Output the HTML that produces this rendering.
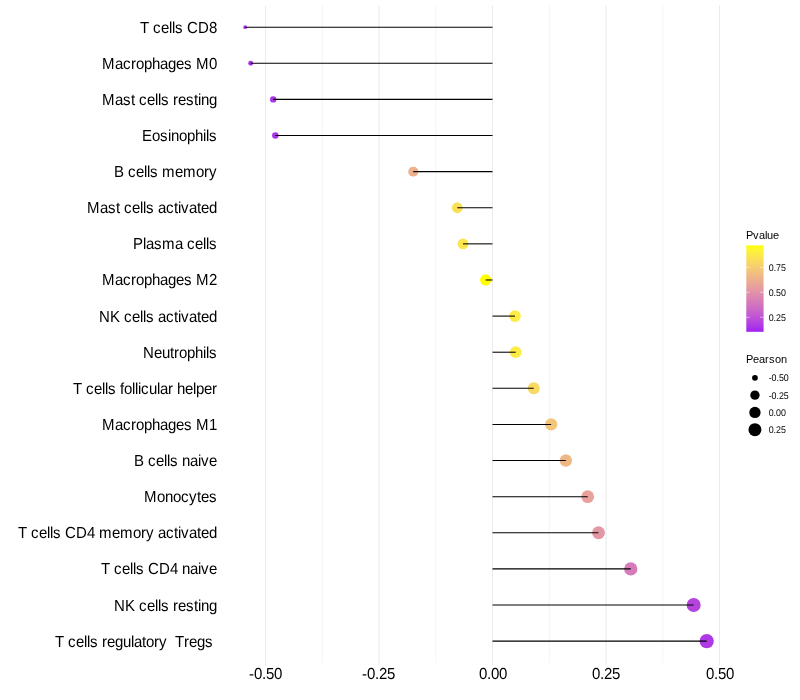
<!DOCTYPE html>
<html lang="en">
<head>
<meta charset="utf-8">
<title>Pearson correlation lollipop</title>
<style>
html,body{margin:0;padding:0;background:#fff;}
body{width:800px;height:700px;overflow:hidden;}
svg{display:block;}
text{font-kerning:none;font-family:"Liberation Sans",Arial,Helvetica,sans-serif;fill:#000;white-space:pre;}
.t15{font-size:16px;}
.lt{font-size:11px;}
.ll{font-size:9.7px;}
.gM{stroke:#EBEBEB;stroke-width:1.07;}
.gm{stroke:#EBEBEB;stroke-width:0.53;}
.seg{stroke:#000;stroke-width:1.07;}
</style>
</head>
<body>
<svg width="800" height="700" viewBox="0 0 800 700">
<rect x="0" y="0" width="800" height="700" fill="#FFFFFF"/>
<defs>
<linearGradient id="pv" x1="0" y1="1" x2="0" y2="0">
<stop offset="0.00" stop-color="#A020F0"/>
<stop offset="0.05" stop-color="#AA33E8"/>
<stop offset="0.10" stop-color="#B441E1"/>
<stop offset="0.15" stop-color="#BC4ED9"/>
<stop offset="0.20" stop-color="#C35AD1"/>
<stop offset="0.25" stop-color="#CA66C9"/>
<stop offset="0.30" stop-color="#D171C1"/>
<stop offset="0.35" stop-color="#D67BB9"/>
<stop offset="0.40" stop-color="#DC86B1"/>
<stop offset="0.45" stop-color="#E190A9"/>
<stop offset="0.50" stop-color="#E59BA0"/>
<stop offset="0.55" stop-color="#E9A597"/>
<stop offset="0.60" stop-color="#EDAF8E"/>
<stop offset="0.65" stop-color="#F0B984"/>
<stop offset="0.70" stop-color="#F3C37A"/>
<stop offset="0.75" stop-color="#F6CD6F"/>
<stop offset="0.80" stop-color="#F8D763"/>
<stop offset="0.85" stop-color="#FBE156"/>
<stop offset="0.90" stop-color="#FCEB46"/>
<stop offset="0.95" stop-color="#FEF530"/>
<stop offset="1.00" stop-color="#FFFF00"/>
</linearGradient>
</defs>
<g id="grid-minor">
<line class="gm" x1="322.25" y1="5.50" x2="322.25" y2="662.80"/>
<line class="gm" x1="435.75" y1="5.50" x2="435.75" y2="662.80"/>
<line class="gm" x1="549.25" y1="5.50" x2="549.25" y2="662.80"/>
<line class="gm" x1="662.75" y1="5.50" x2="662.75" y2="662.80"/>
</g>
<g id="grid-major">
<line class="gM" x1="265.50" y1="5.50" x2="265.50" y2="665.55"/>
<line class="gM" x1="379.00" y1="5.50" x2="379.00" y2="665.55"/>
<line class="gM" x1="492.50" y1="5.50" x2="492.50" y2="665.55"/>
<line class="gM" x1="606.00" y1="5.50" x2="606.00" y2="665.55"/>
<line class="gM" x1="719.50" y1="5.50" x2="719.50" y2="665.55"/>
</g>
<g id="points">
<circle cx="245.20" cy="27.17" r="1.90" fill="#AA33E8"/>
<circle cx="250.70" cy="63.29" r="2.48" fill="#AA33E8"/>
<circle cx="273.20" cy="99.40" r="3.21" fill="#AC36E7"/>
<circle cx="275.35" cy="135.51" r="3.26" fill="#AC36E7"/>
<circle cx="413.25" cy="171.63" r="4.99" fill="#EEB18C"/>
<circle cx="457.30" cy="207.75" r="5.39" fill="#FAE057"/>
<circle cx="463.00" cy="243.86" r="5.44" fill="#FBE64E"/>
<circle cx="485.70" cy="279.98" r="5.63" fill="#FFFF00"/>
<circle cx="514.95" cy="316.09" r="5.85" fill="#FDED42"/>
<circle cx="515.70" cy="352.21" r="5.86" fill="#FCEC44"/>
<circle cx="533.75" cy="388.32" r="5.99" fill="#F9D961"/>
<circle cx="551.15" cy="424.44" r="6.12" fill="#F4C578"/>
<circle cx="565.85" cy="460.55" r="6.22" fill="#F0B786"/>
<circle cx="587.70" cy="496.67" r="6.37" fill="#E8A19B"/>
<circle cx="598.50" cy="532.78" r="6.44" fill="#E397A4"/>
<circle cx="630.75" cy="568.89" r="6.65" fill="#D67ABA"/>
<circle cx="693.65" cy="605.01" r="7.03" fill="#B544DF"/>
<circle cx="706.70" cy="641.12" r="7.11" fill="#AE39E5"/>
</g>
<g id="segments">
<line class="seg" x1="492.50" y1="27.17" x2="245.20" y2="27.17"/>
<line class="seg" x1="492.50" y1="63.29" x2="250.70" y2="63.29"/>
<line class="seg" x1="492.50" y1="99.40" x2="273.20" y2="99.40"/>
<line class="seg" x1="492.50" y1="135.51" x2="275.35" y2="135.51"/>
<line class="seg" x1="492.50" y1="171.63" x2="413.25" y2="171.63"/>
<line class="seg" x1="492.50" y1="207.75" x2="457.30" y2="207.75"/>
<line class="seg" x1="492.50" y1="243.86" x2="463.00" y2="243.86"/>
<line class="seg" x1="492.50" y1="279.98" x2="485.70" y2="279.98"/>
<line class="seg" x1="492.50" y1="316.09" x2="514.95" y2="316.09"/>
<line class="seg" x1="492.50" y1="352.21" x2="515.70" y2="352.21"/>
<line class="seg" x1="492.50" y1="388.32" x2="533.75" y2="388.32"/>
<line class="seg" x1="492.50" y1="424.44" x2="551.15" y2="424.44"/>
<line class="seg" x1="492.50" y1="460.55" x2="565.85" y2="460.55"/>
<line class="seg" x1="492.50" y1="496.67" x2="587.70" y2="496.67"/>
<line class="seg" x1="492.50" y1="532.78" x2="598.50" y2="532.78"/>
<line class="seg" x1="492.50" y1="568.89" x2="630.75" y2="568.89"/>
<line class="seg" x1="492.50" y1="605.01" x2="693.65" y2="605.01"/>
<line class="seg" x1="492.50" y1="641.12" x2="706.70" y2="641.12"/>
</g>
<g id="ylabels">
<text class="t15" transform="rotate(0.03 217 33) scale(0.9375,1)" x="149.33 158.93 163.2 171.73 180.27 183.47 186.67 195.2 199.47 211.2 222.93" y="33" xml:space="preserve">T cells CD8</text>
<text class="t15" transform="rotate(0.03 217 69) scale(0.9375,1)" x="108.8 122.67 131.2 139.73 145.07 153.6 162.13 170.67 179.2 187.73 196.27 204.8 209.07 222.93" y="69" xml:space="preserve">Macrophages M0</text>
<text class="t15" transform="rotate(0.03 217 105) scale(0.9375,1)" x="108.8 122.67 131.2 139.73 144 148.27 156.8 165.33 168.53 171.73 180.27 184.53 189.87 198.4 206.93 211.2 214.4 222.93" y="105" xml:space="preserve">Mast cells resting</text>
<text class="t15" transform="rotate(0.03 217 141) scale(0.9375,1)" x="151.47 162.13 170.67 179.2 182.4 190.93 199.47 208 216.53 219.73 222.93" y="141" xml:space="preserve">Eosinophils</text>
<text class="t15" transform="rotate(0.03 217 177) scale(0.9375,1)" x="121.6 132.27 136.53 145.07 153.6 156.8 160 168.53 172.8 186.67 195.2 209.07 217.6 222.93" y="177" xml:space="preserve">B cells memory</text>
<text class="t15" transform="rotate(0.03 217 213) scale(0.9375,1)" x="92.8 106.67 115.2 123.73 128 132.27 140.8 149.33 152.53 155.73 164.27 168.53 177.07 185.6 189.87 193.07 201.6 210.13 214.4 222.93" y="213" xml:space="preserve">Mast cells activated</text>
<text class="t15" transform="rotate(0.03 217 249) scale(0.9375,1)" x="141.87 152.53 155.73 164.27 172.8 186.67 195.2 199.47 208 216.53 219.73 222.93" y="249" xml:space="preserve">Plasma cells</text>
<text class="t15" transform="rotate(0.03 217 285) scale(0.9375,1)" x="108.8 122.67 131.2 139.73 145.07 153.6 162.13 170.67 179.2 187.73 196.27 204.8 209.07 222.93" y="285" xml:space="preserve">Macrophages M2</text>
<text class="t15" transform="rotate(0.03 217 322) scale(0.9375,1)" x="105.6 117.33 128 132.27 140.8 149.33 152.53 155.73 164.27 168.53 177.07 185.6 189.87 193.07 201.6 210.13 214.4 222.93" y="322" xml:space="preserve">NK cells activated</text>
<text class="t15" transform="rotate(0.03 217 358) scale(0.9375,1)" x="152.53 164.27 172.8 181.33 185.6 190.93 199.47 208 216.53 219.73 222.93" y="358" xml:space="preserve">Neutrophils</text>
<text class="t15" transform="rotate(0.03 217 394) scale(0.9375,1)" x="77.87 87.47 91.73 100.27 108.8 112 115.2 123.73 128 132.27 140.8 144 147.2 150.4 158.93 167.47 170.67 179.2 184.53 188.8 197.33 205.87 209.07 217.6 226.13" y="394" xml:space="preserve">T cells follicular helper</text>
<text class="t15" transform="rotate(0.03 217 430) scale(0.9375,1)" x="108.8 122.67 131.2 139.73 145.07 153.6 162.13 170.67 179.2 187.73 196.27 204.8 209.07 222.93" y="430" xml:space="preserve">Macrophages M1</text>
<text class="t15" transform="rotate(0.03 217 466) scale(0.9375,1)" x="142.93 153.6 157.87 166.4 174.93 178.13 181.33 189.87 194.13 202.67 211.2 214.4 222.93" y="466" xml:space="preserve">B cells naive</text>
<text class="t15" transform="rotate(0.03 217 502) scale(0.9375,1)" x="153.6 167.47 176 184.53 193.07 201.6 210.13 214.4 222.93" y="502" xml:space="preserve">Monocytes</text>
<text class="t15" transform="rotate(0.03 217 538) scale(0.9375,1)" x="19.2 28.8 33.07 41.6 50.13 53.33 56.53 65.07 69.33 81.07 92.8 101.33 105.6 119.47 128 141.87 150.4 155.73 164.27 168.53 177.07 185.6 189.87 193.07 201.6 210.13 214.4 222.93" y="538" xml:space="preserve">T cells CD4 memory activated</text>
<text class="t15" transform="rotate(0.03 217 574) scale(0.9375,1)" x="107.73 117.33 121.6 130.13 138.67 141.87 145.07 153.6 157.87 169.6 181.33 189.87 194.13 202.67 211.2 214.4 222.93" y="574" xml:space="preserve">T cells CD4 naive</text>
<text class="t15" transform="rotate(0.03 217 611) scale(0.9375,1)" x="121.6 133.33 144 148.27 156.8 165.33 168.53 171.73 180.27 184.53 189.87 198.4 206.93 211.2 214.4 222.93" y="611" xml:space="preserve">NK cells resting</text>
<text class="t15" transform="rotate(0.03 217 647) scale(0.9375,1)" x="58.67 68.27 72.53 81.07 89.6 92.8 96 104.53 108.8 114.13 122.67 131.2 139.73 142.93 151.47 155.73 164.27 169.6 178.13 182.4 186.67 196.27 201.6 210.13 218.67 227.2" y="647" xml:space="preserve">T cells regulatory  Tregs </text>
</g>
<g id="xlabels">
<text class="t15" transform="rotate(0.03 265.5 679) scale(0.9375,1)" x="265.6 270.93 279.47 283.73 292.27" y="679" xml:space="preserve">-0.50</text>
<text class="t15" transform="rotate(0.03 378.5 679) scale(0.9375,1)" x="386.13 391.47 400 404.27 412.8" y="679" xml:space="preserve">-0.25</text>
<text class="t15" transform="rotate(0.03 493 679) scale(0.9375,1)" x="510.93 519.47 523.73 532.27" y="679" xml:space="preserve">0.00</text>
<text class="t15" transform="rotate(0.03 606 679) scale(0.9375,1)" x="631.47 640 644.27 652.8" y="679" xml:space="preserve">0.25</text>
<text class="t15" transform="rotate(0.03 720 679) scale(0.9375,1)" x="753.07 761.6 765.87 774.4" y="679" xml:space="preserve">0.50</text>
</g>
<g id="legend-pvalue">
<text class="lt" x="746 753 759 765 767 773" y="239" xml:space="preserve">Pvalue</text>
<rect x="746.30" y="245.4" width="17.28" height="86.4" fill="url(#pv)"/>
<line x1="746.30" y1="267.30" x2="749.76" y2="267.30" stroke="#fff" stroke-width="0.53"/>
<line x1="760.12" y1="267.30" x2="763.58" y2="267.30" stroke="#fff" stroke-width="0.53"/>
<text class="ll" transform="rotate(0.03) scale(0.915,1)" x="840.33 845.67 848.35 853.69" y="270.55" xml:space="preserve">0.75</text>
<line x1="746.30" y1="292.30" x2="749.76" y2="292.30" stroke="#fff" stroke-width="0.53"/>
<line x1="760.12" y1="292.30" x2="763.58" y2="292.30" stroke="#fff" stroke-width="0.53"/>
<text class="ll" transform="rotate(0.03) scale(0.915,1)" x="840.33 845.67 848.35 853.69" y="295.55" xml:space="preserve">0.50</text>
<line x1="746.30" y1="317.25" x2="749.76" y2="317.25" stroke="#fff" stroke-width="0.53"/>
<line x1="760.12" y1="317.25" x2="763.58" y2="317.25" stroke="#fff" stroke-width="0.53"/>
<text class="ll" transform="rotate(0.03) scale(0.915,1)" x="840.33 845.67 848.35 853.69" y="320.55" xml:space="preserve">0.25</text>
</g>
<g id="legend-pearson">
<text class="lt" x="746 753 759 765 769 775 781" y="363" xml:space="preserve">Pearson</text>
<circle cx="754.94" cy="377.85" r="2.89" fill="#000"/>
<text class="ll" transform="rotate(0.03) scale(0.915,1)" x="840.33 843.53 848.87 851.55 856.9" y="380.55" xml:space="preserve">-0.50</text>
<circle cx="754.94" cy="395.13" r="4.65" fill="#000"/>
<text class="ll" transform="rotate(0.03) scale(0.915,1)" x="840.33 843.53 848.87 851.55 856.9" y="398.55" xml:space="preserve">-0.25</text>
<circle cx="754.94" cy="412.41" r="5.68" fill="#000"/>
<text class="ll" transform="rotate(0.03) scale(0.915,1)" x="840.33 845.67 848.35 853.69" y="415.55" xml:space="preserve">0.00</text>
<circle cx="754.94" cy="429.69" r="6.49" fill="#000"/>
<text class="ll" transform="rotate(0.03) scale(0.915,1)" x="840.33 845.67 848.35 853.69" y="432.55" xml:space="preserve">0.25</text>
</g>
</svg>
</body>
</html>
